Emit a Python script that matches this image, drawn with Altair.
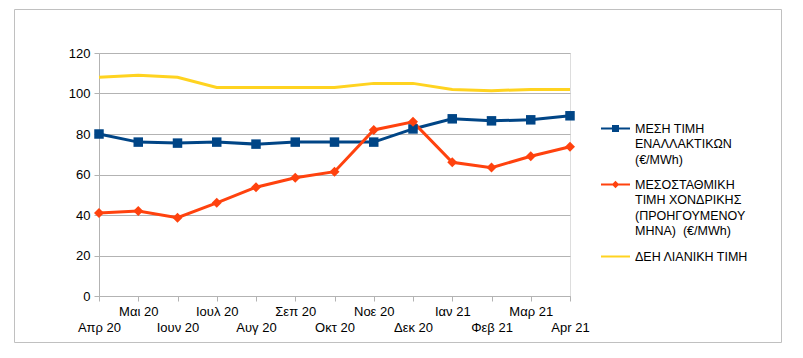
import json
import altair as alt
import pandas as pd

months = ["Απρ 20", "Μαι 20", "Ιουν 20", "Ιουλ 20", "Αυγ 20", "Σεπ 20", "Οκτ 20",
          "Νοε 20", "Δεκ 20", "Ιαν 21", "Φεβ 21", "Μαρ 21", "Apr 21"]
avg_alt = [80, 76, 75.5, 76, 75, 76, 76, 76, 82.5, 87.5, 86.5, 87, 89]
wholesale = [41, 42, 38.7, 46, 53.7, 58.4, 61.4, 82, 86, 66, 63.4, 69, 73.7]
dei_retail = [108, 109, 108, 103, 103, 103, 103, 105, 105, 102, 101.4, 102, 102]

series_lines = [
    ["ΜΕΣΗ ΤΙΜΗ", "ΕΝΑΛΛΑΚΤΙΚΩΝ", "(€/MWh)"],
    ["ΜΕΣΟΣΤΑΘΜΙΚΗ", "ΤΙΜΗ ΧΟΝΔΡΙΚΗΣ", "(ΠΡΟΗΓΟΥΜΕΝΟΥ", "ΜΗΝΑ)\u00a0 (€/MWh)"],
    ["ΔΕΗ ΛΙΑΝΙΚΗ ΤΙΜΗ"],
]
series = [" ".join(l) for l in series_lines]
colors = ["#004586", "#ff420e", "#ffd320"]

rows = []
for name, vals in zip(series, [avg_alt, wholesale, dei_retail]):
    for m, v in zip(months, vals):
        rows.append({"month": m, "value": v, "series": name})
df = pd.DataFrame(rows)

FONT = "Liberation Sans"
GRID = "#b3b3b3"

months_js = json.dumps(months, ensure_ascii=False)
x_label_expr = f"indexof({months_js}, datum.label) % 2 == 0 ? ['', datum.label] : datum.label"
label_map = json.dumps({n: l for n, l in zip(series, series_lines)}, ensure_ascii=False)

legend_paths = [
    "M-1,0H1M-0.172,-0.172H0.172V0.172H-0.172ZM-0.07,-0.07H0.07V0.07H-0.07Z",
    "M-1,0H1M0,-0.16L0.16,0L0,0.16L-0.16,0ZM0,-0.06L0.06,0L0,0.06L-0.06,0Z",
    "M-1,0H1",
]

x_enc = alt.X(
    "month:O", sort=months, scale=alt.Scale(padding=0),
    axis=alt.Axis(title=None, labelAngle=0, labelExpr=x_label_expr, labelBaseline="top",
                  labelLineHeight=16, labelPadding=4, tickSize=5, labelOverlap=False,
                  labelFlush=False, grid=False, labelFontSize=13, labelColor="black",
                  labelFont=FONT, domainColor=GRID, tickColor=GRID),
)
y_enc = alt.Y(
    "value:Q", scale=alt.Scale(domain=[0, 120], nice=False),
    axis=alt.Axis(title=None, values=list(range(0, 121, 20)), grid=True, gridColor=GRID,
                  tickSize=5, labelPadding=4, labelFontSize=13, labelColor="black",
                  labelFont=FONT, domainColor=GRID, tickColor=GRID),
)

color_scale = alt.Scale(domain=series, range=colors)

legend_kw = dict(
    orient="none", legendX=501, legendY=60, title=None, padding=0,
    labelFont=FONT, labelFontSize=12.5, labelColor="black", labelLimit=0,
    labelBaseline="middle", rowPadding=3, labelOffset=4,
    symbolSize=841, symbolStrokeWidth=2, symbolOpacity=1,
    labelExpr=f"{label_map}[datum.label]",
)

legend_layer = alt.Chart(df).mark_point(filled=False, opacity=0, strokeWidth=2).encode(
    x=x_enc, y=y_enc,
    color=alt.Color("series:N", sort=series, scale=color_scale, legend=alt.Legend(**legend_kw)),
    shape=alt.Shape("series:N", sort=series, scale=alt.Scale(domain=series, range=legend_paths),
                    legend=alt.Legend(**legend_kw)),
)

lines = alt.Chart(df).mark_line(strokeWidth=3).encode(
    x=x_enc, y=y_enc, color=alt.Color("series:N", sort=series, scale=color_scale, legend=None)
)

pts_sq = alt.Chart(df).transform_filter(
    alt.FieldEqualPredicate(field="series", equal=series[0])
).mark_point(filled=True, opacity=1, shape="square", size=90).encode(
    x=x_enc, y=y_enc, color=alt.Color("series:N", scale=color_scale, legend=None)
)
pts_dm = alt.Chart(df).transform_filter(
    alt.FieldEqualPredicate(field="series", equal=series[1])
).mark_point(filled=True, opacity=1, shape="diamond", size=100).encode(
    x=x_enc, y=y_enc, color=alt.Color("series:N", scale=color_scale, legend=None)
)

frame = alt.Chart(alt.Data(values=[{"f": 1}])).mark_rect(
    filled=False, stroke="#c0c0c0", strokeWidth=1
).encode(x=alt.value(-84.5), x2=alt.value(682.5), y=alt.value(-43.5), y2=alt.value(289.5))

chart = alt.layer(legend_layer, lines, pts_sq, pts_dm, frame).resolve_legend(
    color="independent", shape="independent"
).properties(
    width=471, height=243,
    autosize=alt.AutoSizeParams(type="none"),
    padding={"left": 91, "top": 45, "right": 225, "bottom": 55},
).configure_view(stroke=GRID).configure(
    background="white", font=FONT, style={"guide-label": {"lineHeight": 15.5}}
)

chart.save("out.html", embed_options={"renderer": "svg", "actions": False})
